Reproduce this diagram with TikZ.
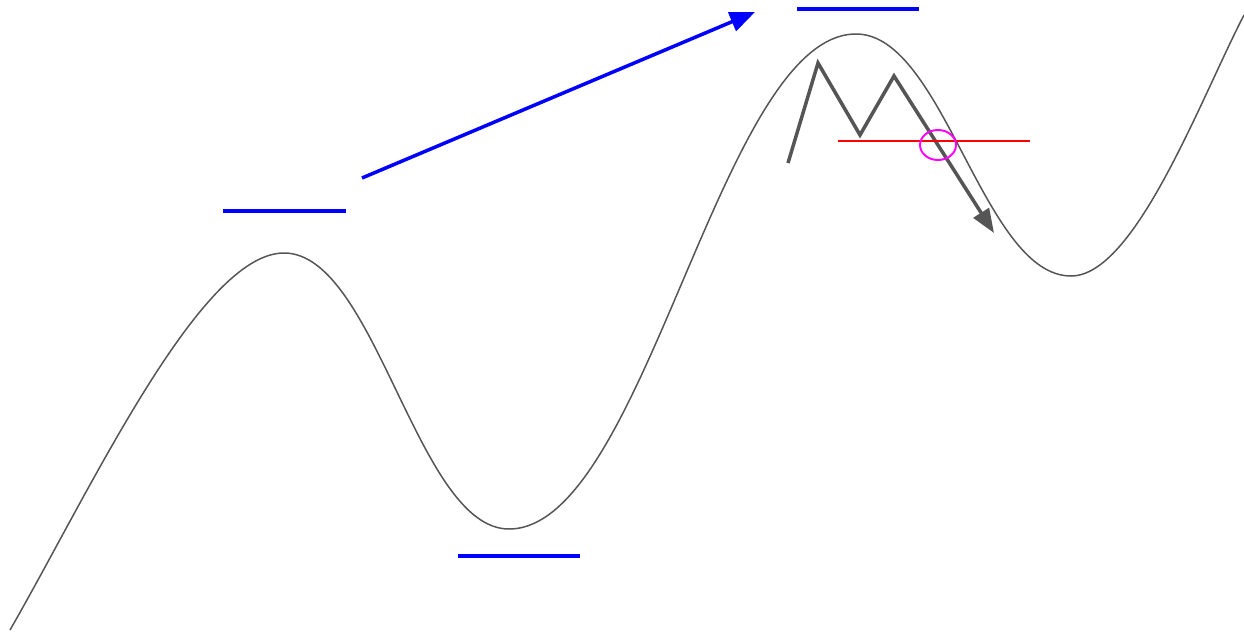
\documentclass[tikz,border=0pt]{standalone}
\usepackage{xcolor}
\usepackage{tikz}
\usetikzlibrary{arrows.meta}
\definecolor{wavegray}{HTML}{555555}
\definecolor{brkpink}{RGB}{255,0,255}

\begin{document}
\begin{tikzpicture}[
    x=0.02cm,y=-0.02cm,
    wave/.style={draw=wavegray,line width=0.85pt},
    level/.style={draw=blue,line width=2.3pt},
    trend/.style={draw=blue,line width=2pt,-{Triangle[length=0.5cm,width=0.4cm]}},
    mtop/.style={draw=wavegray,line width=2pt,line join=miter,-{Triangle[length=0.48cm,width=0.36cm]}},
    neck/.style={draw=red,line width=1.1pt},
    brk/.style={draw=brkpink,line width=1.1pt}
    ]

    \useasboundingbox (0,0) rectangle (1244,632);

    % price curve
    \coordinate (start) at (10,630);
    \coordinate (peakA) at (284,253);
    \coordinate (lowA) at (509,529);
    \coordinate (peakB) at (856,34);
    \coordinate (lowB) at (1071,276);
    \coordinate (stop) at (1244,15);

    \draw[wave] (start) .. controls (90,491) and (200,253) .. (peakA)
        .. controls (376,253) and (417,529) .. (lowA)
        .. controls (645,529) and (720,34) .. (peakB)
        .. controls (944,34) and (983,276) .. (lowB)
        .. controls (1135,276) and (1200,100) .. (stop);

    % levels
    \draw[level] (223,211) -- (346,211);
    \draw[level] (458,556) -- (580,556);
    \draw[level] (797,9) -- (919,9);

    % trend arrow
    \coordinate (trendA) at (362,178);
    \coordinate (trendB) at (755,12);
    \draw[trend] (trendA) -- (trendB);

    % M top and neckline
    \coordinate (m0) at (788,163);
    \coordinate (m1) at (818,63);
    \coordinate (m2) at (860,135);
    \coordinate (m3) at (894,76);
    \coordinate (m4) at (994,233);
    \draw[mtop] (m0) -- (m1) -- (m2) -- (m3) -- (m4);

    \coordinate (neckL) at (838,141);
    \coordinate (neckR) at (1030,141);
    \draw[neck] (neckL) -- (neckR);

    \coordinate (cross) at (938,145);
    \draw[brk] (cross) ellipse [x radius=18,y radius=15];

\end{tikzpicture}
\end{document}
